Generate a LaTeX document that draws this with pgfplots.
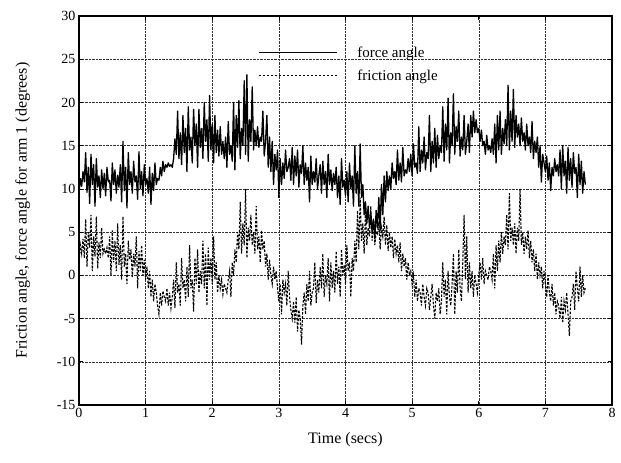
\documentclass[border=0pt]{standalone}
\usepackage{pgfplots}
\usepackage{pgfplotstable}
\pgfplotsset{compat=1.18}
\usepackage{fontspec}
\setmainfont{Liberation Serif}
\pgfplotstableread{
t force fric
0.00 9.5 1.5
0.02 11.2 3.5
0.04 10.3 2.5
0.06 12.0 4.2
0.08 10.8 2.0
0.10 14.2 6.5
0.12 9.6 1.0
0.14 12.5 5.0
0.16 8.3 3.2
0.18 14.0 7.0
0.20 10.5 0.5
0.22 12.8 4.5
0.24 8.0 2.2
0.26 13.5 6.8
0.28 10.2 0.8
0.30 11.5 3.8
0.32 9.0 2.0
0.34 12.2 5.5
0.36 10.0 2.5
0.38 11.8 3.0
0.40 9.2 2.5
0.42 12.5 3.2
0.44 10.8 2.0
0.46 11.0 4.5
0.48 8.6 0.0
0.50 13.0 5.2
0.52 10.5 1.5
0.54 12.2 4.0
0.56 9.5 0.5
0.58 11.6 6.0
0.60 10.2 1.2
0.62 12.8 3.5
0.64 8.5 -0.5
0.66 15.5 6.8
0.68 9.8 1.0
0.70 12.5 2.5
0.72 7.8 -1.0
0.74 14.2 4.0
0.76 10.5 1.8
0.78 12.0 3.0
0.80 9.5 -0.2
0.82 13.2 2.5
0.84 10.8 1.0
0.86 11.5 4.5
0.88 8.8 -1.5
0.90 14.3 2.8
0.92 10.0 0.5
0.94 12.0 3.5
0.96 9.2 0.0
0.98 12.8 1.8
1.00 10.5 -0.5
1.02 11.2 1.0
1.04 9.5 -1.5
1.06 12.5 0.5
1.08 8.2 -2.5
1.10 11.8 -0.5
1.12 9.8 -3.0
1.14 13.0 -1.0
1.16 10.5 -2.0
1.18 11.2 -3.5
1.20 11.0 -4.5
1.22 12.5 -2.0
1.24 11.5 -3.5
1.26 13.2 -1.8
1.28 12.0 -2.5
1.30 12.8 -3.0
1.32 12.5 -1.5
1.34 13.0 -3.5
1.36 12.6 -2.0
1.38 12.8 -3.8
1.40 12.5 -2.5
1.42 13.5 -0.5
1.44 15.8 -3.8
1.46 14.0 1.5
1.48 19.0 -2.0
1.50 13.5 -1.0
1.52 16.5 -3.5
1.54 12.8 2.0
1.56 18.5 -1.5
1.58 14.2 -0.5
1.60 17.0 -3.0
1.62 12.0 1.0
1.64 19.5 -2.5
1.66 14.5 3.5
1.68 16.0 -1.5
1.70 13.0 -0.5
1.72 19.2 -4.2
1.74 15.0 2.0
1.76 17.5 -1.0
1.78 12.5 3.0
1.80 19.2 -2.0
1.82 14.8 0.5
1.84 17.0 -1.0
1.86 13.5 4.0
1.88 20.0 -1.5
1.90 15.5 2.5
1.92 18.0 -3.5
1.94 13.2 3.2
1.96 20.8 -0.5
1.98 14.5 2.0
2.00 17.5 -1.0
2.02 13.0 4.5
2.04 18.5 -0.5
2.06 14.2 1.5
2.08 16.8 -2.0
2.10 13.8 0.0
2.12 17.2 -1.5
2.14 14.0 -0.5
2.16 15.5 -2.2
2.18 13.5 -1.0
2.20 16.0 -1.5
2.22 12.5 -2.0
2.24 17.8 -0.5
2.26 14.0 0.5
2.28 15.0 -2.5
2.30 13.2 1.5
2.32 20.0 0.0
2.34 12.2 3.0
2.36 18.5 1.5
2.38 14.8 5.0
2.40 20.2 3.0
2.42 13.5 8.5
2.44 17.0 2.5
2.46 15.0 6.0
2.48 22.5 3.5
2.50 14.0 10.0
2.52 23.2 2.0
2.54 13.2 5.5
2.56 18.0 4.0
2.58 15.5 7.0
2.60 21.8 3.5
2.62 14.5 5.0
2.64 16.8 2.5
2.66 15.0 8.0
2.68 17.2 3.0
2.70 14.8 4.5
2.72 16.0 1.5
2.74 15.5 5.2
2.76 19.0 3.0
2.78 13.8 4.0
2.80 15.5 1.0
2.82 18.5 2.5
2.84 12.5 -0.5
2.86 16.0 1.8
2.88 12.0 0.0
2.90 15.5 -1.0
2.92 10.5 1.0
2.94 14.0 -0.5
2.96 12.2 0.5
2.98 14.5 -1.5
3.00 9.0 -3.0
3.02 13.5 -1.0
3.04 10.5 -4.5
3.06 13.0 -0.5
3.08 11.2 -2.0
3.10 14.5 -1.0
3.12 12.0 -3.5
3.14 12.5 0.5
3.16 13.5 -2.5
3.18 11.0 -4.0
3.20 14.8 -5.0
3.22 10.5 -3.0
3.24 13.8 -5.5
3.26 11.5 -2.5
3.28 14.5 -6.5
3.30 10.2 -4.0
3.32 12.8 -5.0
3.34 11.8 -8.0
3.36 15.0 -3.5
3.38 10.5 -2.0
3.40 13.0 -4.5
3.42 11.0 -1.0
3.44 12.5 -3.0
3.46 8.5 0.5
3.48 13.8 -3.5
3.50 10.5 -2.0
3.52 12.0 -1.5
3.54 10.8 1.5
3.56 13.5 -3.2
3.58 10.0 -0.5
3.60 11.5 -2.0
3.62 12.8 1.0
3.64 9.5 -1.5
3.66 13.2 2.5
3.68 10.5 -2.5
3.70 12.0 0.0
3.72 9.0 -1.0
3.74 14.0 2.0
3.76 10.5 -3.0
3.78 12.2 1.5
3.80 9.8 -1.5
3.82 11.8 0.5
3.84 10.5 -2.0
3.86 12.5 2.8
3.88 9.0 -1.0
3.90 11.5 1.0
3.92 8.2 -2.5
3.94 13.5 3.0
3.96 10.2 0.0
3.98 11.0 1.2
4.00 9.2 -1.0
4.02 12.0 3.5
4.04 8.5 0.5
4.06 13.0 1.5
4.08 10.0 -2.5
4.10 11.5 2.0
4.12 8.0 0.5
4.14 15.0 4.0
4.16 9.5 1.5
4.18 12.0 7.5
4.20 8.0 3.0
4.22 15.2 9.0
4.24 9.0 4.0
4.26 10.5 6.0
4.28 7.0 2.5
4.30 8.5 7.5
4.32 6.0 3.5
4.34 8.0 5.5
4.36 5.5 4.5
4.38 7.2 8.0
4.40 5.0 4.0
4.42 6.5 6.5
4.44 4.2 3.5
4.46 7.5 5.0
4.48 5.5 4.8
4.50 9.0 6.2
4.52 5.2 3.0
4.54 10.5 5.5
4.56 7.0 4.5
4.58 11.5 6.8
4.60 8.5 3.5
4.62 12.0 5.8
4.64 9.8 2.8
4.66 11.5 5.0
4.68 10.0 3.2
4.70 13.0 4.5
4.72 11.2 2.0
4.74 12.0 4.2
4.76 10.5 2.5
4.78 14.5 3.5
4.80 11.0 1.5
4.82 13.0 3.8
4.84 10.8 0.5
4.86 14.8 2.5
4.88 11.5 1.0
4.90 12.2 2.0
4.92 11.8 -0.5
4.94 13.5 1.5
4.96 12.0 0.0
4.98 14.0 0.5
5.00 11.5 -1.0
5.02 15.2 0.0
5.04 12.5 -2.5
5.06 13.0 -0.5
5.08 11.8 -3.0
5.10 17.2 -1.5
5.12 12.0 -2.0
5.14 14.5 -3.5
5.16 13.0 -1.0
5.18 16.0 -2.5
5.20 12.2 -3.5
5.22 14.2 -1.5
5.24 13.5 -2.0
5.26 18.5 -4.0
5.28 12.0 -2.5
5.30 15.5 -1.0
5.32 13.0 -3.5
5.34 17.0 -5.0
5.36 12.5 -2.0
5.38 16.2 -3.0
5.40 13.5 -1.5
5.42 15.0 -4.5
5.44 14.2 -3.0
5.46 19.5 1.5
5.48 13.2 -2.5
5.50 17.5 -0.5
5.52 14.5 -4.5
5.54 20.5 0.5
5.56 13.0 -2.5
5.58 16.5 -3.5
5.60 15.0 -1.0
5.62 21.0 2.5
5.64 14.0 -4.5
5.66 17.2 0.5
5.68 15.5 -2.0
5.70 19.0 3.0
5.72 13.8 -1.5
5.74 16.0 -3.0
5.76 14.5 1.5
5.78 18.5 7.0
5.80 14.0 -0.5
5.82 15.5 4.5
5.84 17.5 -2.0
5.86 14.2 1.5
5.88 18.5 -1.5
5.90 16.0 0.5
5.92 19.0 -2.5
5.94 16.5 0.0
5.96 18.0 -1.0
5.98 16.5 -2.0
6.00 17.0 0.0
6.02 15.5 1.5
6.04 16.8 -0.5
6.06 15.0 2.0
6.08 15.5 -1.0
6.10 14.0 0.5
6.12 16.2 0.0
6.14 14.5 -0.5
6.16 15.0 1.0
6.18 14.2 0.5
6.20 15.8 -0.5
6.22 14.0 2.5
6.24 17.5 -1.5
6.26 13.0 3.5
6.28 18.5 0.5
6.30 14.5 4.0
6.32 19.0 1.5
6.34 14.0 5.0
6.36 17.0 2.5
6.38 15.2 4.5
6.40 18.0 3.5
6.42 15.0 7.0
6.44 22.0 3.0
6.46 14.5 9.5
6.48 19.0 4.0
6.50 15.5 5.5
6.52 21.5 3.5
6.54 14.8 6.0
6.56 18.5 2.5
6.58 16.0 5.5
6.60 17.5 4.0
6.62 15.0 10.0
6.64 18.2 3.5
6.66 15.5 5.0
6.68 16.5 2.5
6.70 14.5 4.5
6.72 17.5 3.0
6.74 15.0 5.2
6.76 16.0 2.0
6.78 14.2 4.0
6.80 17.8 1.5
6.82 13.5 3.0
6.84 15.5 0.5
6.86 14.2 2.5
6.88 16.0 -0.5
6.90 12.5 1.5
6.92 15.0 0.0
6.94 10.8 1.0
6.96 14.0 -1.5
6.98 13.0 0.5
7.00 12.0 -1.0
7.02 13.8 -2.5
7.04 11.0 0.0
7.06 13.0 -2.0
7.08 9.8 -3.0
7.10 12.5 -1.0
7.12 11.5 -3.5
7.14 13.5 -2.0
7.16 12.0 -4.5
7.18 12.8 -3.0
7.20 11.5 -3.5
7.22 14.5 -5.0
7.24 10.0 -2.5
7.26 15.0 -5.5
7.28 11.5 -3.0
7.30 13.2 -4.0
7.32 9.5 -2.0
7.34 14.8 -4.5
7.36 11.0 -7.0
7.38 13.5 -3.0
7.40 10.2 -2.5
7.42 14.2 -1.0
7.44 11.8 -4.0
7.46 12.5 0.5
7.48 9.0 -1.5
7.50 14.0 -3.0
7.52 10.5 1.0
7.54 13.2 -2.5
7.56 9.5 0.0
7.58 12.0 -2.0
7.60 10.5 -1.5
}\datatable
\begin{document}
\begin{tikzpicture}
\useasboundingbox (-79pt,-58pt) rectangle (542pt,405pt);
\begin{axis}[
  at={(0,0)}, anchor=south west,
  scale only axis, width=533pt, height=389pt,
  xmin=0, xmax=8, ymin=-15, ymax=30,
  xtick={0,1,...,8}, ytick={-15,-10,...,30},
  grid=major,
  major grid style={densely dotted, black!80, line width=0.5pt},
  axis line style={line width=1.1pt},
  tick style={black, line width=0.7pt},
  major tick length=4pt,
  tick label style={font=\fontsize{14}{14}\selectfont},
  /pgf/number format/assume math mode=true,
  xlabel={Time (secs)},
  ylabel={Friction angle, force angle for arm 1 (degrees)},
  label style={font=\fontsize{16}{16}\selectfont},
  xlabel style={at={(axis description cs:0.5,0)}, yshift=-24pt, anchor=north},
  ylabel style={at={(axis description cs:-0.085,0.5)}, anchor=south, rotate=0},
  legend style={draw=none, fill=white, fill opacity=0, text opacity=1,
     at={(rel axis cs:0.33,0.932)}, anchor=north west,
     font=\fontsize{15}{15}\selectfont, row sep=7pt,
     /tikz/every even column/.append style={column sep=0pt}},
  legend cell align=left,
  legend image code/.code={\draw[#1] (0pt,0pt) -- (78pt,0pt);},
]
\addplot[black, line width=1.3pt, line join=round] table[x=t, y=force] {\datatable};
\addlegendentry{\hspace{18pt}force angle}
\addplot[black, line width=1.1pt, dash pattern=on 2.5pt off 1.5pt] table[x=t, y=fric] {\datatable};
\addlegendentry{\hspace{18pt}friction angle}
\end{axis}
\end{tikzpicture}
\end{document}
